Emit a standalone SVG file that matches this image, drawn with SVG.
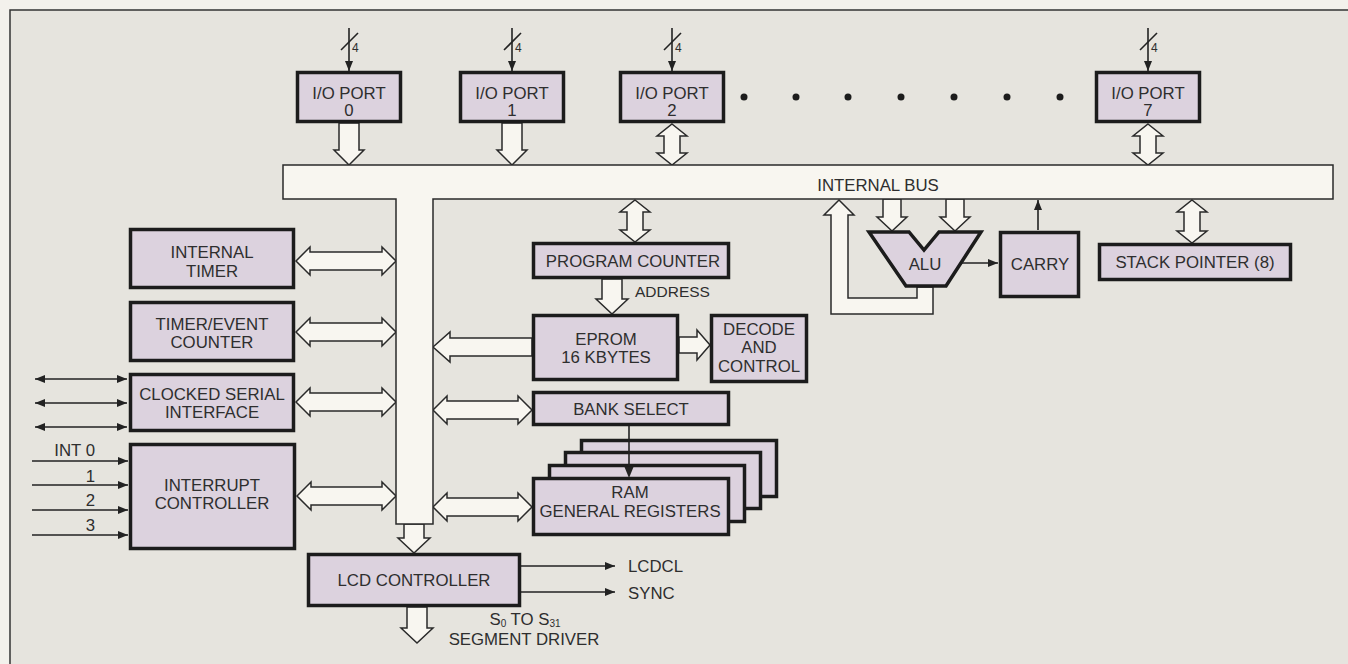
<svg xmlns="http://www.w3.org/2000/svg" width="1348" height="664" viewBox="0 0 1348 664">
<style>
.bg{fill:#f3f1ec}
.frame{fill:#e6e4de;stroke:#333;stroke-width:1.5}
.box{fill:#dcd2de;stroke:#1c1c1c;stroke-width:3.5}
.fat{fill:#f8f6f0;stroke:#2a2a2a;stroke-width:1.5;stroke-linejoin:miter}
.bus{fill:#f8f6f0;stroke:#2a2a2a;stroke-width:1.5}
.thin{fill:none;stroke:#222;stroke-width:1.6}
text{font-family:"Liberation Sans",Arial,Helvetica,sans-serif;font-size:16.8px;fill:#2e2e2e}
.c{text-anchor:middle}
.e{text-anchor:end}
.small{font-size:12px}
.dot{fill:#1c1c1c}
</style>
<defs>
<marker id="ah" viewBox="0 0 10 8" refX="10" refY="4" markerWidth="10" markerHeight="8" markerUnits="userSpaceOnUse" orient="auto-start-reverse">
<path d="M0,0 L10,4 L0,8 Z" fill="#222"/>
</marker>
</defs>
<rect class="bg" x="0" y="0" width="1348" height="664"/>
<rect class="frame" x="10" y="10" width="1400" height="700"/>

<g id="connectors">
<g id="port-inputs">
<line class="thin" x1="349" y1="28" x2="349" y2="71" marker-end="url(#ah)"/>
<line class="thin" x1="341" y1="50" x2="358" y2="33"/>
<text class="small" x="352" y="52">4</text>
<line class="thin" x1="512" y1="28" x2="512" y2="71" marker-end="url(#ah)"/>
<line class="thin" x1="504" y1="50" x2="521" y2="33"/>
<text class="small" x="515" y="52">4</text>
<line class="thin" x1="672" y1="28" x2="672" y2="71" marker-end="url(#ah)"/>
<line class="thin" x1="664" y1="50" x2="681" y2="33"/>
<text class="small" x="675" y="52">4</text>
<line class="thin" x1="1148" y1="28" x2="1148" y2="71" marker-end="url(#ah)"/>
<line class="thin" x1="1140" y1="50" x2="1157" y2="33"/>
<text class="small" x="1151" y="52">4</text>
</g>
<polygon class="fat" points="339,123 359,123 359,150 364,150 349,165 334,150 339,150"/>
<polygon class="fat" points="502,123 522,123 522,150 527,150 512,165 497,150 502,150"/>
<polygon class="fat" points="672,124 687,136 680,136 680,153 687,153 672,165 657,153 664,153 664,136 657,136"/>
<polygon class="fat" points="1148,124 1163,136 1156,136 1156,153 1163,153 1148,165 1133,153 1140,153 1140,136 1133,136"/>
<polygon class="fat" points="635,200 650,212 643,212 643,230 650,230 635,242 620,230 627,230 627,212 620,212"/>
<polygon class="fat" points="1192,200 1207,212 1200,212 1200,231 1207,231 1192,243 1177,231 1184,231 1184,212 1177,212"/>
<polygon class="fat" points="602,279 622,279 622,299 628,299 612,314 596,299 602,299"/>
<text x="635" y="297" style="font-size:15.5px">ADDRESS</text>
<polygon class="fat" points="883,199 901,199 901,217 907,217 892,231 877,217 883,217"/>
<polygon class="fat" points="946,199 964,199 964,217 970,217 955,231 940,217 946,217"/>
<polygon class="fat" points="917,287 917,298 848,298 848,215 854,215 839,200 824,215 831,215 831,314 933,314 933,287"/>
<line class="thin" x1="962" y1="263" x2="998" y2="263" marker-end="url(#ah)"/>
<line class="thin" x1="1038" y1="230" x2="1038" y2="200" marker-end="url(#ah)"/>
<polygon class="fat" points="296,261 310,247 310,252 382,252 382,247 396,261 382,275 382,270 310,270 310,275"/>
<polygon class="fat" points="296,332 310,318 310,323 382,323 382,318 396,332 382,346 382,341 310,341 310,346"/>
<polygon class="fat" points="296,402 310,388 310,393 382,393 382,388 396,402 382,416 382,411 310,411 310,416"/>
<polygon class="fat" points="297,496 311,482 311,487 382,487 382,482 396,496 382,510 382,505 311,505 311,510"/>
<polygon class="fat" points="433,347 450,332 450,338 532,338 532,356 450,356 450,362"/>
<polygon class="fat" points="433,410 447,396 447,401 518,401 518,396 532,410 518,424 518,419 447,419 447,424"/>
<polygon class="fat" points="433,507 447,493 447,498 518,498 518,493 532,507 518,521 518,516 447,516 447,521"/>
<polygon class="fat" points="679,337 697,337 697,330 710,345 697,360 697,353 679,353"/>
<polygon class="fat" points="404,524 424,524 424,538 430,538 414,553 398,538 404,538"/>
<polygon class="fat" points="407,607 427,607 427,628 433,628 417,643 401,628 407,628"/>
<line class="thin" x1="521" y1="566" x2="615" y2="566" marker-end="url(#ah)"/>
<line class="thin" x1="521" y1="592" x2="615" y2="592" marker-end="url(#ah)"/>
<line class="thin" x1="35" y1="379" x2="127" y2="379" marker-start="url(#ah)" marker-end="url(#ah)"/>
<line class="thin" x1="35" y1="403" x2="127" y2="403" marker-start="url(#ah)" marker-end="url(#ah)"/>
<line class="thin" x1="35" y1="427" x2="127" y2="427" marker-start="url(#ah)" marker-end="url(#ah)"/>
<line class="thin" x1="32" y1="461" x2="128" y2="461" marker-end="url(#ah)"/>
<line class="thin" x1="32" y1="485" x2="128" y2="485" marker-end="url(#ah)"/>
<line class="thin" x1="32" y1="510" x2="128" y2="510" marker-end="url(#ah)"/>
<line class="thin" x1="32" y1="535" x2="128" y2="535" marker-end="url(#ah)"/>
<text class="e" x="95" y="456">INT 0</text>
<text class="e" x="95" y="482">1</text>
<text class="e" x="95" y="506">2</text>
<text class="e" x="95" y="531">3</text>
<text x="628" y="572">LCDCL</text>
<text x="628" y="599">SYNC</text>
<text class="c" x="525" y="625">S<tspan style="font-size:10px" dy="2">0</tspan><tspan dy="-2"> TO S</tspan><tspan style="font-size:10px" dy="2">31</tspan></text>
<text class="c" x="524" y="645">SEGMENT DRIVER</text>
</g>

<g id="internal-bus">
<path class="bus" d="M283,165 H1333 V199 H433 V524 H396 V199 H283 Z"/>
<text class="c" x="878" y="191">INTERNAL BUS</text>
</g>

<g id="io-port-0"><rect class="box" x="297.5" y="72.5" width="103" height="49"/><text class="c" x="349" y="99">I/O PORT</text><text class="c" x="349" y="116">0</text></g>
<g id="io-port-1"><rect class="box" x="460.5" y="72.5" width="103" height="49"/><text class="c" x="512" y="99">I/O PORT</text><text class="c" x="512" y="116">1</text></g>
<g id="io-port-2"><rect class="box" x="620.5" y="72.5" width="103" height="49"/><text class="c" x="672" y="99">I/O PORT</text><text class="c" x="672" y="116">2</text></g>
<g id="io-port-7"><rect class="box" x="1096.5" y="72.5" width="103" height="49"/><text class="c" x="1148" y="99">I/O PORT</text><text class="c" x="1148" y="116">7</text></g>
<g id="dots">
<circle class="dot" cx="744" cy="97" r="3.5"/><circle class="dot" cx="796" cy="97" r="3.5"/><circle class="dot" cx="848" cy="97" r="3.5"/><circle class="dot" cx="901" cy="97" r="3.5"/><circle class="dot" cx="954" cy="97" r="3.5"/><circle class="dot" cx="1007" cy="97" r="3.5"/><circle class="dot" cx="1060" cy="97" r="3.5"/>
</g>

<g id="internal-timer"><rect class="box" x="130.5" y="229.5" width="163" height="58"/><text class="c" x="212" y="258">INTERNAL</text><text class="c" x="212" y="277">TIMER</text></g>
<g id="timer-event-counter"><rect class="box" x="130.5" y="302.5" width="163" height="58"/><text class="c" x="212" y="330">TIMER/EVENT</text><text class="c" x="212" y="348">COUNTER</text></g>
<g id="clocked-serial-interface"><rect class="box" x="130.5" y="374.5" width="163" height="56"/><text class="c" x="212" y="400">CLOCKED SERIAL</text><text class="c" x="212" y="418">INTERFACE</text></g>
<g id="interrupt-controller"><rect class="box" x="130.5" y="444.5" width="164" height="104"/><text class="c" x="212" y="491">INTERRUPT</text><text class="c" x="212" y="509">CONTROLLER</text></g>

<g id="program-counter"><rect class="box" x="533.5" y="243.5" width="195" height="34"/><text class="c" x="633" y="267">PROGRAM COUNTER</text></g>
<g id="eprom"><rect class="box" x="533.5" y="315.5" width="144" height="64"/><text class="c" x="606" y="345">EPROM</text><text class="c" x="606" y="363">16 KBYTES</text></g>
<g id="decode-control"><rect class="box" x="711.5" y="315.5" width="95" height="66"/><text class="c" x="759" y="335">DECODE</text><text class="c" x="759" y="353">AND</text><text class="c" x="759" y="372">CONTROL</text></g>
<g id="bank-select"><rect class="box" x="533.5" y="392.5" width="195" height="32"/><text class="c" x="631" y="415">BANK SELECT</text></g>
<g id="ram-general-registers">
<rect class="box" x="581.5" y="440.5" width="195" height="56"/>
<rect class="box" x="565.5" y="452.5" width="195" height="56"/>
<rect class="box" x="549.5" y="465.5" width="195" height="56"/>
<rect class="box" x="533.5" y="478.5" width="195" height="56"/>
<line class="thin" x1="629" y1="426" x2="629" y2="466"/>
<path d="M624.5,467 L629,478 L633.5,467 Z" fill="#222"/>
<text class="c" x="630" y="498">RAM</text><text class="c" x="630" y="517">GENERAL REGISTERS</text>
</g>
<g id="lcd-controller"><rect class="box" x="308.5" y="554.5" width="211" height="51"/><text class="c" x="414" y="586">LCD CONTROLLER</text></g>

<g id="alu"><polygon class="box" points="869,232 909,232 924,250 939,232 981,232 946,286 906,286"/><text class="c" x="925" y="270">ALU</text></g>
<g id="carry"><rect class="box" x="1000.5" y="232.5" width="78" height="64"/><text class="c" x="1040" y="270">CARRY</text></g>
<g id="stack-pointer"><rect class="box" x="1099.5" y="244.5" width="191" height="35"/><text class="c" x="1195" y="268">STACK POINTER (8)</text></g>
</svg>
